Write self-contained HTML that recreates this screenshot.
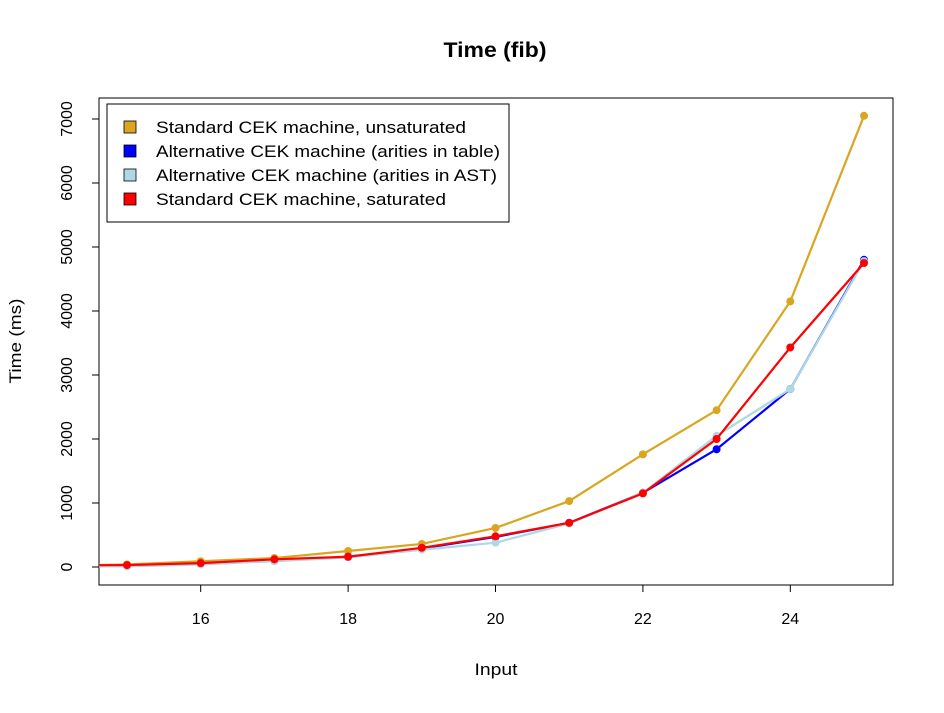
<!DOCTYPE html>
<html><head><meta charset="utf-8"><style>
body{margin:0;background:#fff;}
text{font-family:"Liberation Sans",Arial,sans-serif;}
</style></head><body>
<svg id="chart" width="944" height="708">
<defs><clipPath id="clip"><rect x="99" y="98" width="794" height="487"/></clipPath></defs>
<text x="495" y="57" text-anchor="middle" font-size="21" font-weight="bold" textLength="103" lengthAdjust="spacingAndGlyphs">Time (fib)</text>
<rect x="99" y="98" width="794" height="487" fill="none" stroke="#000"/>
<g id="xaxis"></g>
<g id="yaxis"></g>
<text x="496" y="675" text-anchor="middle" font-size="17" textLength="43" lengthAdjust="spacingAndGlyphs">Input</text>
<text transform="translate(21,341) rotate(-90)" text-anchor="middle" font-size="17" textLength="85" lengthAdjust="spacingAndGlyphs">Time (ms)</text>
<g id="series" clip-path="url(#clip)"></g>
<g>
<rect x="107" y="104" width="402" height="118" fill="#fff" stroke="#000"/>
<g id="legend"></g>
</g>
</svg>
<script>
const inputs=[14,15,16,17,18,19,20,21,22,23,24,25];
const unsat=[20,40,90,140,250,360,610,1030,1760,2450,4150,7050];
const altTable=[15,20,50,100,160,290,470,690,1160,1840,2780,4800];
const altAst=[10,10,40,90,150,270,380,680,1160,2050,2780,4780];
const sat=[25,30,60,120,160,300,480,690,1150,2000,3430,4750];
const xTicks=[16,18,20,22,24];
const yTicks=[0,1000,2000,3000,4000,5000,6000,7000];
const seriesNames=["Standard CEK machine, unsaturated","Alternative CEK machine (arities in table)","Alternative CEK machine (arities in AST)","Standard CEK machine, saturated"];
const colors=["#DAA520","#0000FF","#ADD8E6","#FF0000"];
const legendWidths=[310,344,341,290];
const X=v=>127+(v-15)*73.7;
const Y=v=>567-v*0.064;
const NS="http://www.w3.org/2000/svg";
function mk(t,a,p){const e=document.createElementNS(NS,t);for(const k in a)e.setAttribute(k,a[k]);p.appendChild(e);return e;}
const xa=document.getElementById('xaxis');
mk('line',{x1:X(16),x2:X(24),y1:585,y2:585,stroke:'#000'},xa);
xTicks.forEach(t=>{
 const l=mk('line',{x1:X(t),x2:X(t),y1:585,y2:592,stroke:'#000'},xa);
 
 
 const tx=mk('text',{x:X(t),y:624,'text-anchor':'middle','font-size':'16'},xa);tx.textContent=t;
 
 
});
const ya=document.getElementById('yaxis');
mk('line',{x1:99,x2:99,y1:Y(0),y2:Y(7000),stroke:'#000'},ya);
yTicks.forEach(t=>{
 const l=mk('line',{x1:92,x2:99,y1:Y(t),y2:Y(t),stroke:'#000'},ya);
 
 
 const tx=mk('text',{transform:`translate(72,${Y(t)}) rotate(-90)`,'text-anchor':'middle','font-size':'16'},ya);tx.textContent=t;
 
 
});
const sg=document.getElementById('series');
[unsat,altTable,altAst,sat].forEach((d,i)=>{
 const pts=inputs.map((x,j)=>X(x)+','+Y(d[j])).join(' ');
 const pl=mk('polyline',{points:pts,fill:'none',stroke:colors[i],'stroke-width':2.2},sg);
 
 
 inputs.forEach((x,j)=>{
  const c=mk('circle',{cx:X(x),cy:Y(d[j]),r:4,fill:colors[i]},sg);
  
  
 });
});
const lg=document.getElementById('legend');
seriesNames.forEach((n,i)=>{
 const y=127+i*24;
 const r=mk('rect',{x:124,y:y-6,width:12,height:12,fill:colors[i],stroke:'#000','stroke-width':0.8},lg);
 
 
 const t=mk('text',{x:156,y:y+6,'font-size':'17',textLength:legendWidths[i],lengthAdjust:'spacingAndGlyphs'},lg);t.textContent=n;
 
 
});
</script>
</body></html>
